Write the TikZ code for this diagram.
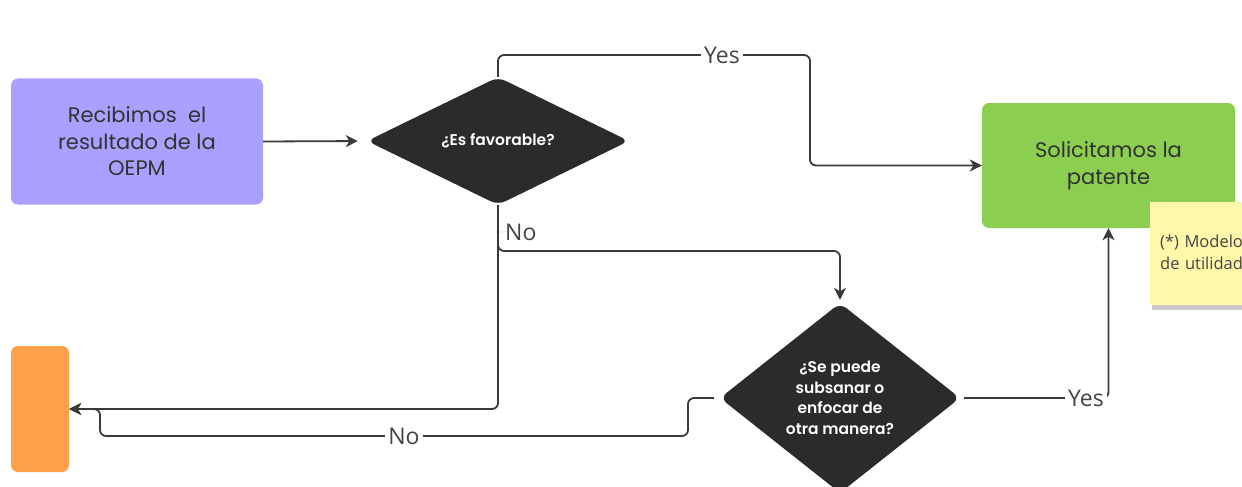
\documentclass[tikz,border=0pt]{standalone}
\usepackage{fontspec}
\setmainfont{Poppins}[BoldFont={Poppins SemiBold}]
\newfontfamily\osans{Open Sans}
\usetikzlibrary{shapes.geometric,arrows.meta,shadows}
\definecolor{purp}{RGB}{170,160,255}
\definecolor{grn}{RGB}{139,206,80}
\definecolor{orng}{RGB}{255,160,74}
\definecolor{dark}{RGB}{43,43,46}
\definecolor{sticky}{RGB}{255,248,170}
\definecolor{txt}{RGB}{50,50,50}
\definecolor{lbltxt}{RGB}{68,68,68}
\definecolor{linec}{RGB}{58,58,58}
\begin{document}
\begin{tikzpicture}[x=1pt,y=-1pt,
  box/.style={rectangle, rounded corners=7pt, inner sep=0pt, align=center, text=txt, font=\fontsize{21}{26.5}\selectfont},
  dia/.style={diamond, rounded corners=8pt, fill=dark, inner sep=0pt, text=white, align=center, font=\bfseries\fontsize{15.5}{20.5}\selectfont},
  conn/.style={draw=linec, line width=1.8pt, rounded corners=6pt},
  arr/.style={-{Stealth[length=12pt,width=12pt,inset=3.5pt]}},
  lbl/.style={font=\osans\fontsize{23}{26}\selectfont, text=lbltxt, fill=white, inner sep=3pt},
  note/.style={rectangle, fill=sticky, align=left, text=lbltxt, font=\osans\fontsize{16.5}{22}\selectfont,
    drop shadow={shadow xshift=2pt, shadow yshift=-5pt, opacity=0.35, fill=black!60}}
]
\useasboundingbox (0,0) rectangle (1242,487);
\fill[white] (0,0) rectangle (1242,487);

% nodes
\node[box, fill=purp, minimum width=252pt, minimum height=126pt] (rec) at (137,141.5) {Recibimos\ \ el\\resultado de la\\OEPM};
\node[dia, minimum width=262pt, minimum height=116pt] (fav) at (498,141) {¿Es favorable?};
\node[box, fill=grn, minimum width=253pt, minimum height=125pt] (sol) at (1108.5,165.5) {Solicitamos la\\patente};
\node[box, fill=orng, minimum width=58pt, minimum height=126pt] (fin) at (40,409) {};
\node[dia, minimum width=240pt, minimum height=190pt] (sub) at (840,398) {¿Se puede\\subsanar o\\enfocar de\\otra manera?};
\node[note, anchor=north west, minimum width=130pt, minimum height=103pt, text width=118pt, inner xsep=10pt, inner ysep=0pt] (nt) at (1150,202) {(*) Modelo\\de utilidad\vphantom{()}};

% connectors
\draw[conn,arr,shorten >=9pt] (rec.east) -- (fav.west);
\draw[conn,arr] (fav.north) |- (810,55) |- (sol.west);
\node[lbl] (yes1) at (722,55) {Yes};
\draw[conn,arr,shorten >=3pt] (fav.south) |- (840,251) -- (sub.north);
\draw[conn,arr] (fav.south) |- (fin.east);
\fill[linec] (498,232) circle (1.5pt);
\node[font=\osans\fontsize{23}{26}\selectfont, text=lbltxt, anchor=west, inner sep=0pt] (no1) at (505,232) {No};
\draw[conn,arr,shorten <=4pt] (sub.east) -| (sol.south);
\node[lbl] (yes2) at (1086,398) {Yes};
\draw[conn,arr,shorten <=6pt] (sub.west) -- (688,398) |- (100,436) |- (fin.east);
\node[lbl] (no2) at (404,436) {No};
\end{tikzpicture}
\end{document}
